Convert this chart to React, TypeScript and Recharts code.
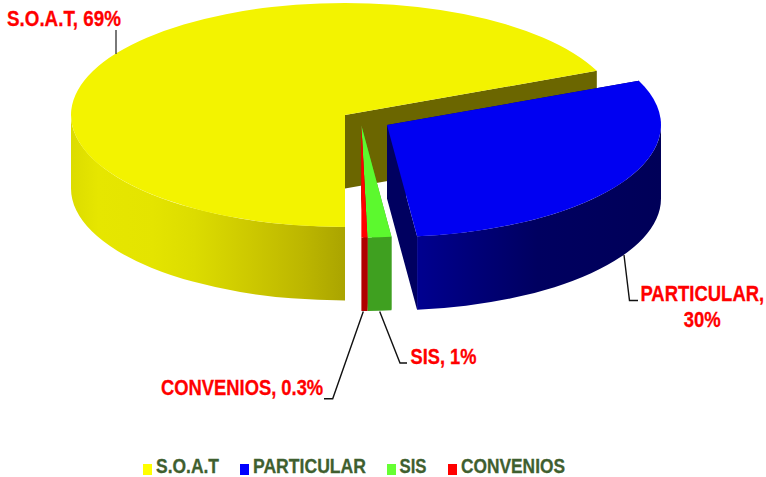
import React from "react";
import { PieChart, Pie, Legend } from "recharts";

const categories = ["S.O.A.T", "PARTICULAR", "SIS", "CONVENIOS"];
const shares = [68.55, 29.7, 1.4, 0.35];
const pointLabels = [["S.O.A.T, 69%"], ["PARTICULAR,", "30%"], ["SIS, 1%"], ["CONVENIOS, 0.3%"]];

const legendColors = ["#ffff00", "#0000ff", "#66ff33", "#ff0000"];
const topColors = ["#f3f300", "#0000f2", "#5cf92e", "#ff0000"];
const faceColors = ["#6b6600", "#000060", "#3fa020", "#b00000"];
const wallStops = [
  [[0, "#dcdc00"], [0.1, "#e6e600"], [0.3, "#e4e400"], [0.45, "#dcdc00"], [0.65, "#cdc900"], [0.85, "#bcb600"], [1, "#aaa400"]],
  [[0, "#00009c"], [0.3, "#00007a"], [0.55, "#000060"], [1, "#000058"]],
  [[0, "#3fa020"], [1, "#3fa020"]],
  [[0, "#b00000"], [1, "#b00000"]],
] as [number, string][][];

// explosion of each slice, in pixels, relative to the pie's centre
const sliceShift = [[0, 0], [42, 10], [16.4, 10.5], [16.4, 10.5]];
const TILT = 112 / 274;
const DEPTH = 73.5;

const leaders = [
  [[116, 30], [116, 54]],
  [[624, 255], [629.5, 300.5], [638, 300.5]],
  [[379.7, 311.5], [400, 363], [407, 363]],
  [[363.3, 311.5], [332.7, 398.7], [324, 398.7]],
];
const labelBoxes = [
  { x: 7, y: 25.5, lh: 0, anchor: "start", squeeze: 0.855 },
  { x: 702.3, y: 300.5, lh: 26.5, anchor: "middle", squeeze: 0.84 },
  { x: 410.5, y: 364, lh: 0, anchor: "start", squeeze: 0.83 },
  { x: 161, y: 394.5, lh: 0, anchor: "start", squeeze: 0.835 },
];
const legendItems = [
  { sx: 143, tx: 156, tw: 63 },
  { sx: 240, tx: 253, tw: 113 },
  { sx: 387, tx: 399.5, tw: 27 },
  { sx: 448, tx: 461, tw: 104 },
];

const FONT = "'Liberation Sans', Arial, sans-serif";
const rad = (a: number) => (a * Math.PI) / 180;

function Slice3D(props: any) {
  const { cx, cy, outerRadius: r, startAngle, endAngle, index } = props;
  const i = index ?? 0;
  const ox = cx + sliceShift[i][0];
  const oy = cy + sliceShift[i][1];
  const pt = (a: number, drop = 0) => [ox + r * Math.cos(rad(a)), oy - r * TILT * Math.sin(rad(a)) + drop];
  const arc = (from: number, to: number, drop: number, sweep: number) => {
    const [x, y] = pt(to, drop);
    const large = Math.abs(to - from) > 180 ? 1 : 0;
    return `A${r} ${r * TILT} 0 ${large} ${sweep} ${x} ${y}`;
  };
  const face = (a: number) => {
    const p = pt(a);
    return `M${ox} ${oy}L${p[0]} ${p[1]}L${p[0]} ${p[1] + DEPTH}L${ox} ${oy + DEPTH}Z`;
  };
  const hi = Math.max(startAngle, endAngle);
  const lo = Math.min(startAngle, endAngle);
  const walls: [number, number][] = [];
  for (let k = -2; k <= 1; k++) {
    const a = Math.min(hi, 360 * k);
    const b = Math.max(lo, 360 * k - 180);
    if (a > b) walls.push([a, b]);
  }
  const startVisible = Math.cos(rad(startAngle)) < -1e-6;
  const endVisible = Math.cos(rad(endAngle)) > 1e-6;
  const gid = `wall-${i}`;
  const s0 = pt(startAngle);
  const topPath = `M${ox} ${oy}L${s0[0]} ${s0[1]}${arc(startAngle, endAngle, 0, 1)}Z`;
  const gx = i === 0 ? [cx - r, cx] : [ox, ox + r];
  return (
    <g>
      <defs>
        <linearGradient id={gid} gradientUnits="userSpaceOnUse" x1={gx[0]} y1={0} x2={gx[1]} y2={0}>
          {wallStops[i].map(([o, c]) => (
            <stop key={o} offset={o} stopColor={c} />
          ))}
        </linearGradient>
      </defs>
      {!startVisible && <path d={face(startAngle)} fill={faceColors[i]} />}
      {!endVisible && <path d={face(endAngle)} fill={faceColors[i]} />}
      {walls.map(([a, b]) => {
        const p = pt(a);
        const q = pt(b, DEPTH);
        return (
          <path
            key={a}
            d={`M${p[0]} ${p[1]}${arc(a, b, 0, 1)}L${q[0]} ${q[1]}${arc(b, a, DEPTH, 0)}Z`}
            fill={`url(#${gid})`}
          />
        );
      })}
      {startVisible && <path d={face(startAngle)} fill={faceColors[i]} />}
      {endVisible && <path d={face(endAngle)} fill={faceColors[i]} />}
      <path d={topPath} fill={topColors[i]} />
    </g>
  );
}

function SliceLabel(props: any) {
  const i = props.index ?? 0;
  const box = labelBoxes[i];
  return (
    <g>
      <polyline
        points={leaders[i].map((p) => p.join(",")).join(" ")}
        fill="none"
        stroke={i === 0 ? "#404040" : "#111111"}
        strokeWidth={1.4}
      />
      {pointLabels[i].map((line, n) => (
        <text
          key={line}
          transform={`translate(${box.x} ${box.y + n * box.lh}) scale(${box.squeeze} 1)`}
          fill="#ff0000"
          stroke="#ff0000"
          strokeWidth={0.3}
          fontFamily={FONT}
          fontWeight={700}
          fontSize={22}
          textAnchor={box.anchor}
        >
          {line}
        </text>
      ))}
    </g>
  );
}

function LegendRow({ payload }: any) {
  return (
    <svg width={766} height={27} style={{ display: "block" }}>
      {categories.map((name, i) => {
        const entry = (payload ?? []).find((p: any) => p.value === name);
        if (!entry) return null;
        return (
          <g key={name}>
            <rect x={legendItems[i].sx} y={14} width={9} height={11} fill={entry.color} />
            <text
              x={legendItems[i].tx}
              y={23}
              fill="#3f5f2f"
              stroke="#3f5f2f"
              strokeWidth={0.3}
              fontFamily={FONT}
              fontWeight={700}
              fontSize={21}
              textLength={legendItems[i].tw}
              lengthAdjust="spacingAndGlyphs"
            >
              {name}
            </text>
          </g>
        );
      })}
    </svg>
  );
}

const rows = categories.map((name, i) => ({ name, value: shares[i], fill: legendColors[i] }));

export default function App() {
  return (
    <div style={{ position: "absolute", left: 0, top: 0, width: 766, height: 477 }}>
      <PieChart width={766} height={477} margin={{ top: 0, right: 0, bottom: 0, left: 0 }}>
        <Pie
          data={rows}
          dataKey="value"
          nameKey="name"
          cx={345}
          cy={115}
          innerRadius={0}
          outerRadius={274}
          startAngle={-90}
          endAngle={-450}
          stroke="none"
          isAnimationActive={false}
          shape={Slice3D}
          label={SliceLabel}
          labelLine={false}
        />
        <Legend
          content={<LegendRow />}
          wrapperStyle={{ position: "absolute", left: 0, top: 450, width: 766, height: 27 }}
        />
      </PieChart>
    </div>
  );
}
